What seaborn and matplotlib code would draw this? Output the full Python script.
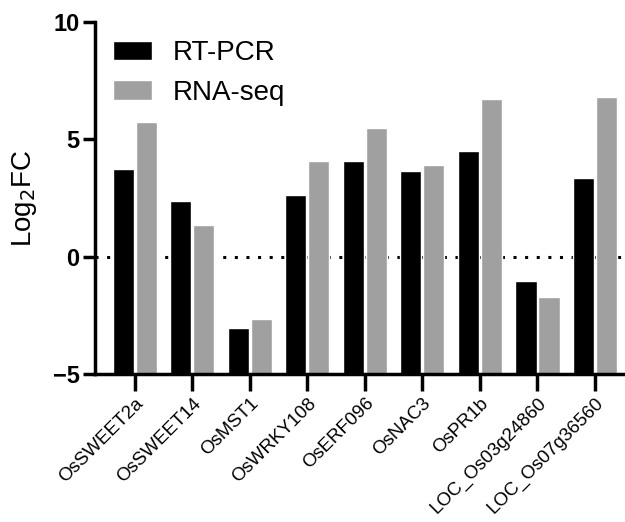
import numpy as np
import pandas as pd
import matplotlib
matplotlib.use('Agg')
import matplotlib.pyplot as plt
import seaborn as sns

# datos
genes = ['OsSWEET2a', 'OsSWEET14', 'OsMST1', 'OsWRKY108', 'OsERF096',
         'OsNAC3', 'OsPR1b', 'LOC_Os03g24860', 'LOC_Os07g36560']
rt_pcr = [3.74, 2.38, -3.05, 2.61, 4.06, 3.65, 4.50, -1.04, 3.33]
rna_seq = [5.73, 1.36, -2.64, 4.09, 5.50, 3.90, 6.71, -1.73, 6.80]
methods = ['RT-PCR', 'RNA-seq']
colors = ['#000000', '#a0a0a0']
y_base = -5  # las barras salen desde el fondo del eje (estilo Prism)

df = pd.DataFrame({
    'gene': genes * 2,
    'method': [methods[0]] * len(genes) + [methods[1]] * len(genes),
    'value': rt_pcr + rna_seq,
})

sns.set_style('ticks')
plt.rcParams['font.family'] = ['Liberation Sans', 'DejaVu Sans']
for key in ['text.color', 'axes.labelcolor', 'xtick.color', 'ytick.color',
            'axes.edgecolor']:
    plt.rcParams[key] = 'black'

fig = plt.figure(figsize=(6.25, 5.22), dpi=100)
ax = fig.add_axes([0.152, 0.2835, 0.846, 0.6745])

ax.axhline(0, color='black', linestyle=(0, (1, 2.8)), linewidth=2.2, zorder=0)
sns.barplot(data=df, x='gene', y='value', hue='method', palette=colors,
            width=0.8, gap=0.08, ax=ax, zorder=2, saturation=1)

# mover la base de cada barra al limite inferior
for bar in ax.patches:
    top = bar.get_y() + bar.get_height()
    bar.set_y(y_base)
    bar.set_height(top - y_base)

ax.set_ylim(y_base, 10)
ax.set_yticks([-5, 0, 5, 10])
ax.set_xlim(-0.69, 8.5)
ax.set_xlabel('')
ax.set_ylabel('Log$_2$FC', fontsize=20, labelpad=10)

for lbl in ax.get_yticklabels():
    lbl.set_fontweight('bold')
ax.tick_params(axis='y', labelsize=17, width=2.5, length=9, pad=2)
ax.tick_params(axis='x', labelsize=13.5, width=2.5, length=12, pad=3)
plt.setp(ax.get_xticklabels(), rotation=45, ha='right', rotation_mode='anchor')

for side in ['left', 'bottom']:
    ax.spines[side].set_linewidth(2.5)
sns.despine(ax=ax)

leg = ax.legend(loc='upper left', bbox_to_anchor=(0.0, 1.0), frameon=False,
                fontsize=20, handlelength=1.4, handleheight=0.7,
                handletextpad=0.75, labelspacing=0.5, borderaxespad=0.25)

fig.savefig('out.png', dpi=100)
